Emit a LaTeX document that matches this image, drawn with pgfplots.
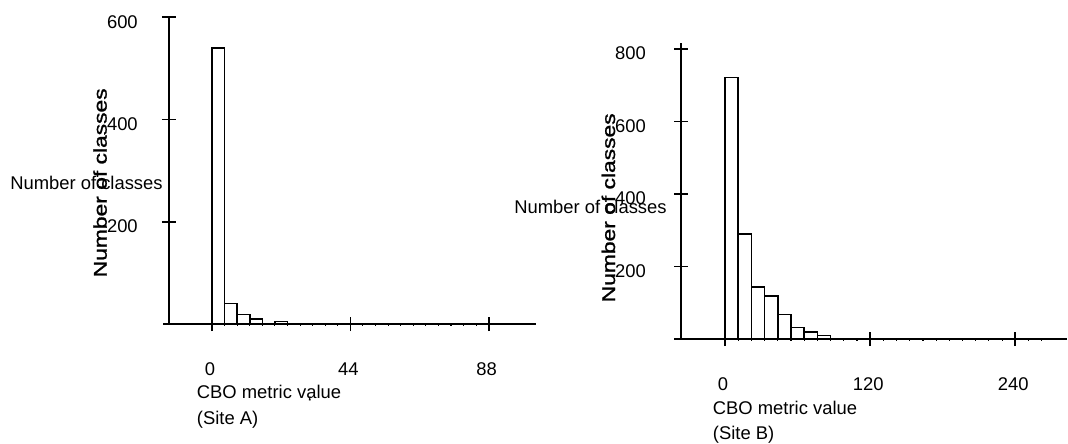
\documentclass[border=0pt]{standalone}
\usepackage{pgfplots}
\pgfplotsset{compat=1.18}
\usepackage{fontspec}
\setmainfont{Liberation Sans}
\newfontfamily\boldish[FakeBold=1.2]{Liberation Sans}
\newcommand{\lbl}{\fontsize{13.8}{16}\selectfont}

% 1 px of the reference = 0.75pt
\pgfplotsset{
  histo/.style={
    scale only axis,
    axis x line=bottom,
    axis y line=left,
    axis line style={-, line width=1.3pt},
    tick align=center,
    major tick length=10.5pt,
    minor tick length=2.25pt,
    tick style={black, line width=1.3pt},
    minor tick style={black, line width=0.8pt},
    /pgf/number format/assume math mode=true,
    every x tick label/.style={font=\lbl, inner sep=0pt, anchor=center, yshift=-28.3pt, xshift=-1.5pt},
    ymin=0,
    clip=false,
  },
  bars/.style={ybar interval, draw=black, fill=white, line width=1.1pt},
}

\begin{document}
\begin{tikzpicture}
\useasboundingbox (0,0) rectangle (801pt,-332.25pt);

% Site A
\begin{axis}[histo,
  at={(126.75pt,-243pt)}, anchor=south west,
  width=275.6pt, height=230.9pt,
  xmin=-13.7, xmax=103.2, ymax=602,
  xtick={0,44,88},
  minor xtick={4,8,12,16,20,24,28,32,36,40,48,52,56,60,64,68,72,76,80,84},
  ytick={200,400,600},
  every y tick label/.style={font=\lbl, inner sep=0pt, anchor=east, xshift=-18pt, yshift=-3.4pt},
  x axis line style={shorten <=-4.3pt},
]
\addplot[bars] coordinates {
  (0,540) (4,40) (8,19) (12,10) (16,1) (20,5) (24,1) (28,0)
};
\end{axis}

% Site B
\begin{axis}[histo,
  at={(510.75pt,-254.25pt)}, anchor=south west,
  width=289.3pt, height=222.0pt,
  xmin=-36.4, xmax=282.5, ymax=816.5,
  xtick={0,120,240},
  minor xtick={10.909,21.818,32.727,43.636,54.545,65.455,76.364,87.273,98.182,109.091,
    130.909,141.818,152.727,163.636,174.545,185.455,196.364,207.273,218.182,229.091,
    250.909,261.818},
  ytick={200,400,600,800},
  every y tick label/.style={font=\lbl, inner sep=0pt, anchor=east, xshift=-21pt, yshift=-3.4pt},
  x axis line style={shorten <=-5.25pt},
]
\addplot[bars] coordinates {
  (0,722) (10.909,290) (21.818,144) (32.727,118) (43.636,67)
  (54.545,32) (65.455,19) (76.364,9) (87.273,2) (98.182,0)
};
\end{axis}

% labels
\node[font=\lbl, anchor=base west, inner sep=0pt] at (7.5pt,-142pt) {Number of classes};
\node[font=\lbl, anchor=base, inner sep=0pt, rotate=90] at (80pt,-137.1pt)
  {\scalebox{1.24}[1]{\boldish Number of classes}};
\node[font=\lbl, anchor=base west, inner sep=0pt] at (147.5pt,-298.7pt) {CBO metric value};
\node[font=\lbl, anchor=base west, inner sep=0pt] at (147.5pt,-318pt) {(Site A)};
\node[font=\lbl, anchor=base, inner sep=0pt] at (232.5pt,-306.75pt) {\char96};

\node[font=\lbl, anchor=base west, inner sep=0pt] at (385.5pt,-160pt) {Number of classes};
\node[font=\lbl, anchor=base, inner sep=0pt, rotate=90] at (461.25pt,-155.85pt)
  {\scalebox{1.24}[1]{\boldish Number of classes}};
\node[font=\lbl, anchor=base west, inner sep=0pt] at (534.5pt,-311.2pt) {CBO metric value};
\node[font=\lbl, anchor=base west, inner sep=0pt] at (534.5pt,-329.9pt) {(Site B)};
\end{tikzpicture}
\end{document}
